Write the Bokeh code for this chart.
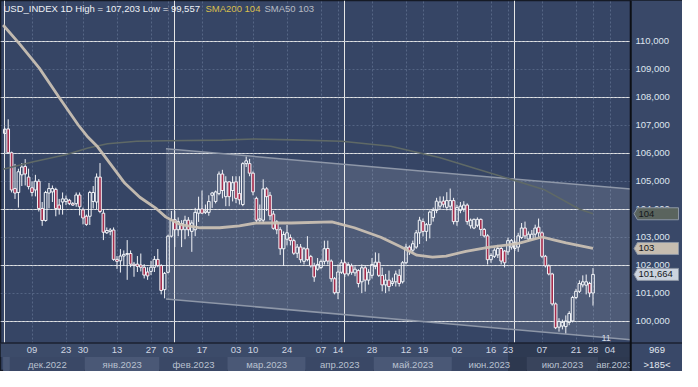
import numpy as np
import pandas as pd
from bokeh.plotting import figure
from bokeh.models import FixedTicker, Grid, Label, Range1d
from bokeh.core.properties import value
from bokeh.embed import file_html
from bokeh.resources import INLINE

# ---------------- data ----------------
FIRST_DAY = "2022-11-29"

opens = [106.70, 106.86, 106.01, 104.73, 104.59, 105.22, 105.52, 105.14, 104.76, 104.68,
         104.99, 104.02, 103.59, 104.57, 104.61, 104.70, 104.14, 104.25, 104.27, 104.31,
         104.19, 104.19, 104.50, 103.97, 103.74, 103.74, 104.27, 104.25, 105.14, 103.85,
         103.15, 103.20, 103.25, 102.20, 102.15, 102.32, 102.38, 102.41, 102.03, 102.03,
         102.00, 101.92, 101.75, 101.77, 101.92, 102.20, 101.98, 101.12, 101.74, 103.03,
         103.62, 103.26, 103.48, 103.26, 103.60, 103.20, 103.26, 103.85, 104.00, 103.88,
         103.88, 104.49, 104.27, 104.55, 105.25, 104.44, 104.97, 104.66, 104.97, 104.55,
         104.16, 105.62, 105.62, 105.28, 104.38, 103.60, 103.60, 104.72, 104.49, 103.82,
         103.54, 103.26, 102.58, 102.92, 102.98, 102.87, 102.42, 102.64, 102.13, 102.58,
         102.30, 101.97, 101.85, 101.91, 102.13, 102.59, 102.14, 101.51, 101.01, 101.74,
         102.08, 101.68, 101.97, 101.72, 101.80, 101.40, 101.90, 101.46, 101.63, 101.95,
         102.10, 101.63, 101.29, 101.46, 101.34, 101.40, 101.63, 101.40, 102.08, 102.64,
         102.53, 102.64, 103.15, 103.55, 103.20, 103.44, 103.70, 103.95, 104.10, 104.28,
         104.06, 104.10, 104.30, 103.55, 103.95, 104.00, 104.14, 103.40, 103.32, 103.42,
         103.63, 103.27, 103.04, 102.19, 102.31, 102.36, 102.59, 102.50, 102.47, 102.64,
         102.59, 102.64, 102.98, 103.32, 102.93, 102.93, 103.10, 103.35, 103.15, 102.31,
         101.97, 101.68, 100.61, 99.78, 99.82, 99.80, 99.95, 100.00, 100.84, 101.06,
         101.29, 101.28, 101.34, 101.00]
highs = [106.90, 107.203, 106.05, 105.61, 105.44, 105.64, 105.78, 105.44, 104.99, 105.22,
         105.07, 104.25, 104.65, 104.93, 104.84, 104.76, 104.36, 104.59, 104.48, 104.36,
         104.25, 104.59, 104.59, 104.05, 103.80, 104.65, 104.82, 105.27, 105.64, 103.97,
         103.34, 103.32, 103.34, 102.32, 102.57, 102.52, 102.89, 102.52, 102.11, 102.32,
         102.41, 102.03, 101.92, 102.15, 102.32, 102.57, 102.03, 101.75, 103.08, 103.93,
         103.93, 103.70, 103.60, 103.76, 103.71, 103.60, 104.04, 104.44, 104.66, 104.16,
         104.49, 104.61, 104.66, 105.34, 105.40, 105.17, 105.00, 105.17, 105.17, 105.17,
         105.67, 105.87, 105.79, 105.34, 104.44, 104.16, 105.06, 104.78, 104.61, 103.93,
         103.60, 103.35, 103.20, 103.43, 103.09, 102.94, 102.75, 102.75, 102.64, 103.03,
         102.36, 102.08, 102.25, 102.20, 102.87, 102.87, 102.20, 101.57, 102.02, 102.19,
         102.14, 102.10, 102.05, 101.95, 101.85, 102.02, 102.00, 101.85, 102.25, 102.45,
         102.42, 101.91, 101.68, 101.80, 101.55, 101.80, 101.85, 102.14, 102.76, 102.70,
         102.87, 103.25, 103.72, 103.66, 103.50, 103.95, 104.05, 104.40, 104.45, 104.45,
         104.60, 104.73, 104.40, 104.15, 104.25, 104.28, 104.20, 103.66, 103.66, 103.70,
         103.66, 103.32, 103.10, 102.42, 102.60, 102.72, 102.64, 102.53, 102.98, 102.93,
         102.87, 103.15, 103.50, 103.55, 103.20, 103.25, 103.44, 103.66, 103.20, 102.36,
         102.02, 101.72, 100.66, 100.10, 100.05, 100.20, 100.35, 100.90, 101.15, 101.45,
         101.63, 101.66, 101.40, 101.89]
lows = [106.00, 105.98, 104.59, 104.36, 104.05, 104.82, 104.84, 104.70, 104.45, 104.45,
        103.91, 103.40, 103.55, 104.02, 104.25, 103.74, 103.80, 103.80, 104.14, 104.14,
        104.11, 104.08, 103.77, 103.45, 103.40, 103.43, 104.02, 104.00, 103.85, 102.89,
        103.11, 103.06, 102.15, 101.86, 101.73, 101.98, 101.47, 101.92, 101.58, 101.75,
        101.77, 101.52, 101.47, 101.64, 101.75, 101.92, 100.95, 100.81, 101.70, 102.98,
        102.64, 103.03, 102.64, 102.92, 103.03, 102.47, 103.03, 103.54, 103.82, 103.82,
        103.76, 104.04, 104.20, 104.49, 104.38, 104.10, 104.10, 104.27, 104.21, 104.16,
        104.10, 105.50, 105.17, 104.49, 103.51, 103.54, 103.48, 103.93, 103.60, 103.26,
        103.10, 102.36, 101.97, 102.70, 102.70, 102.36, 102.25, 102.08, 102.02, 102.13,
        101.91, 101.40, 101.80, 101.85, 102.02, 102.02, 101.40, 100.95, 100.78, 101.68,
        101.57, 101.60, 101.65, 101.60, 101.20, 101.00, 101.05, 101.30, 101.52, 101.85,
        101.57, 101.06, 101.00, 101.06, 101.25, 101.23, 101.23, 101.34, 102.02, 102.36,
        102.40, 102.58, 102.75, 103.02, 102.85, 102.95, 103.55, 103.85, 104.00, 104.05,
        103.95, 103.95, 103.45, 103.40, 103.85, 103.90, 103.44, 103.30, 103.28, 103.35,
        103.04, 102.98, 102.02, 102.08, 102.25, 102.25, 102.02, 101.91, 102.36, 102.55,
        102.50, 102.47, 102.93, 102.93, 102.85, 102.90, 102.93, 102.93, 102.25, 101.91,
        101.63, 100.55, 99.71, 99.62, 99.70, 99.557, 99.85, 99.95, 100.78, 101.00,
        101.20, 100.95, 100.85, 100.55]
closes = [106.85, 106.01, 104.68, 104.57, 105.33, 105.50, 105.25, 104.80, 104.59, 104.99,
          104.02, 103.59, 104.59, 104.73, 104.73, 104.02, 104.00, 104.36, 104.36, 104.19,
          104.14, 104.50, 104.08, 103.68, 103.45, 104.59, 104.59, 105.14, 103.91, 103.17,
          103.23, 103.25, 102.20, 102.13, 102.32, 102.38, 102.41, 102.03, 101.98, 101.95,
          101.92, 101.64, 101.61, 101.92, 102.20, 101.98, 101.09, 101.70, 103.03, 103.60,
          103.26, 103.55, 103.26, 103.60, 103.26, 103.50, 103.88, 103.99, 103.85, 103.93,
          104.27, 104.57, 104.61, 105.25, 104.66, 104.97, 104.44, 104.94, 104.38, 104.33,
          105.62, 105.72, 105.28, 104.61, 103.60, 103.65, 104.72, 104.44, 103.76, 103.31,
          103.26, 102.58, 103.09, 103.15, 102.87, 102.42, 102.64, 102.19, 102.58, 102.19,
          101.97, 101.57, 102.02, 102.13, 102.58, 102.14, 101.51, 101.01, 101.75, 102.08,
          101.68, 102.02, 101.74, 101.85, 101.34, 101.90, 101.46, 101.74, 102.02, 102.10,
          101.63, 101.29, 101.46, 101.23, 101.40, 101.68, 101.34, 102.08, 102.64, 102.49,
          102.76, 103.15, 103.60, 103.20, 103.44, 103.89, 103.95, 104.28, 104.25, 104.17,
          104.30, 104.30, 103.55, 104.05, 104.10, 104.14, 103.55, 103.60, 103.63, 103.63,
          103.27, 103.04, 102.19, 102.34, 102.53, 102.59, 102.14, 102.08, 102.87, 102.87,
          102.81, 103.04, 103.32, 103.04, 103.10, 103.10, 103.32, 103.15, 102.31, 101.97,
          101.68, 100.61, 99.76, 99.98, 99.95, 100.00, 100.27, 100.84, 101.06, 101.34,
          101.40, 101.40, 101.00, 101.664]

# moving averages (candle position, value)
sma50_pos = [-0.5, 4.4, 10.1, 15.8, 21.6, 24.5, 27.3, 31.1, 35.1, 39.7, 44.6, 47.4, 51.7,
             57.5, 63.2, 69.0, 73.9, 84.2, 96.2, 102.8, 110.6, 116.3, 121.2, 125.8, 129.8,
             135.6, 142.2, 150.8, 158.0, 161.4, 165.1, 173.0]
sma50_val = [110.57, 109.89, 109.04, 108.02, 107.00, 106.56, 106.22, 105.60, 104.95, 104.42,
             104.01, 103.71, 103.44, 103.33, 103.33, 103.40, 103.50, 103.50, 103.54, 103.33,
             102.99, 102.66, 102.35, 102.28, 102.32, 102.49, 102.63, 102.76, 103.00, 102.90,
             102.79, 102.59]
sma200_pos = [-0.5, 8.1, 17.9, 24.5, 30.2, 38.8, 47.4, 63.8, 73.3, 84.8, 99.1, 113.5, 127.8,
              143.0, 158.5, 168.9, 173.0]
sma200_val = [105.42, 105.68, 105.94, 106.18, 106.33, 106.42, 106.44, 106.46, 106.50, 106.47,
              106.42, 106.24, 105.84, 105.28, 104.70, 104.00, 103.83]

# drawn price channel (two parallel lines)
channel_pos = [47.4, 184.1]
channel_top = [106.15, 104.71]
channel_bottom = [100.79, 99.33]

tick_dates = ["2022-12-09", "2022-12-23", "2022-12-30", "2023-01-13", "2023-01-27",
              "2023-02-03", "2023-02-17", "2023-03-03", "2023-03-10", "2023-03-24",
              "2023-04-07", "2023-04-14", "2023-04-28", "2023-05-12", "2023-05-19",
              "2023-06-02", "2023-06-16", "2023-06-23", "2023-07-07", "2023-07-21",
              "2023-07-28", "2023-08-04"]
tick_labels = ["09", "23", "30", "13", "27", "03", "17", "03", "10", "24", "07", "14",
               "28", "12", "19", "02", "16", "23", "07", "21", "28", "04"]
month_starts = ["2022-11-01", "2022-12-01", "2023-01-01", "2023-02-01", "2023-03-01",
                "2023-04-01", "2023-05-01", "2023-06-01", "2023-07-01", "2023-08-01",
                "2023-09-01"]
month_labels = ["", "дек.2022", "янв.2023", "фев.2023", "мар.2023", "апр.2023",
                "май.2023", "июн.2023", "июл.2023", "авг.2023"]
price_ticks = [100, 101, 102, 103, 104, 105, 106, 107, 108, 109, 110]
highlight_from = "2023-06-23"

symbol = "USD_INDEX"
timeframe = "1D"
corner_top = "969"
corner_bottom = ">185<"
right_count = "11"

# ---------------- layout / style ----------------
W, H = 682, 371
PX_PER_DAY, PX_PER_UNIT = 3.4, 28.0           # keeps grid lines on the pixel grid
X_LO = 3 - 14.5 / PX_PER_DAY
X_MAX = X_LO + W / PX_PER_DAY
Y_HI = 110 + 40.5 / PX_PER_UNIT
Y_LO = Y_HI - H / PX_PER_UNIT
AXIS_X = 184.1
STRIP_TOP = Y_HI - 342.5 / PX_PER_UNIT
STRIP_MID = Y_HI - 356.5 / PX_PER_UNIT
LABEL_X = X_LO + 635 / PX_PER_DAY
TAG_TIP = X_LO + 633.5 / PX_PER_DAY
TAG_BODY = X_LO + 637 / PX_PER_DAY
TAG_RIGHT = X_LO + 678 / PX_PER_DAY
TAG_HALF = 6 / PX_PER_UNIT
CORNER_X = X_LO + 656.5 / PX_PER_DAY

BG = "#364565"
PANEL = "#394868"
GRID = "#7f8fae"
WHITE = "#f2f4f8"
BEAR = "#a52c4c"
FONT_NAME = "Liberation Sans"
FONT = value(FONT_NAME)


def fmt(v):
    return f"{v:.3f}".replace(".", ",")


days = pd.bdate_range(FIRST_DAY, periods=220)


def day_index(d):
    return int(days.searchsorted(pd.Timestamp(d)))


o = np.array(opens)
h = np.array(highs)
l = np.array(lows)
c = np.array(closes)
x = np.arange(len(o))
up = c >= o
btop = np.maximum(o, c)
bbot = np.minimum(o, c)

p = figure(width=W, height=H, output_backend="svg", toolbar_location=None,
           x_range=Range1d(X_LO, X_MAX), y_range=Range1d(Y_LO, Y_HI),
           x_axis_location=None, y_axis_location=None, title=None)
p.min_border = 0
p.background_fill_color = BG
p.border_fill_color = BG
p.outline_line_color = "#151a25"
p.outline_line_width = 1.5

tick_idx = [float(day_index(d)) for d in tick_dates]
p.add_layout(Grid(dimension=1, ticker=FixedTicker(ticks=price_ticks), grid_line_color=GRID,
                  grid_line_dash="2 2", grid_line_alpha=0.42))
p.add_layout(Grid(dimension=0, ticker=FixedTicker(ticks=tick_idx), grid_line_color=GRID,
                  grid_line_dash="2 2", grid_line_alpha=0.45))

# channel
p.varea(x=channel_pos, y1=channel_bottom, y2=channel_top, fill_color="white", fill_alpha=0.12)
p.line(channel_pos, channel_top, line_color="#8e97a8", line_width=1.5)
p.line(channel_pos, channel_bottom, line_color="#8e97a8", line_width=1.5)

# candles
p.segment(x0=x, y0=btop, x1=x, y1=h, line_color=WHITE, line_width=1)
p.segment(x0=x, y0=l, x1=x, y1=bbot, line_color=WHITE, line_width=1)
p.vbar(x=x[up], width=0.78, top=btop[up], bottom=bbot[up], fill_alpha=0,
       line_color=WHITE, line_width=1)
p.vbar(x=x[~up], width=0.78, top=btop[~up], bottom=bbot[~up], fill_color=BEAR,
       line_color=WHITE, line_width=1)

# moving averages
p.line(sma200_pos, sma200_val, line_color="#5f6966", line_width=1.6)
p.line(sma50_pos, sma50_val, line_color="#c9c0b3", line_width=2.8, line_alpha=0.95)

# bottom time strip
p.quad(left=X_LO, right=AXIS_X, bottom=STRIP_MID, top=STRIP_TOP, fill_color="#3c4b69",
       line_color=None)
m_idx = [day_index(d) - 0.5 for d in month_starts]
m_left = [max(a, X_LO) for a in m_idx[:-1]]
m_right = [min(b, AXIS_X) for b in m_idx[1:]]
m_cols = ["#4a5876" if i % 2 == 0 else "#3a4866" for i in range(len(m_left))]
p.quad(left=m_left, right=m_right, bottom=Y_LO, top=STRIP_MID, fill_color=m_cols,
       line_color=None)
p.quad(left=day_index(highlight_from), right=AXIS_X, bottom=Y_LO, top=STRIP_TOP,
       fill_color="black", fill_alpha=0.22, line_color=None)
p.text(x=tick_idx, y=(STRIP_TOP + STRIP_MID) / 2, text=tick_labels, text_font=FONT,
       text_font_size="9.5px", text_color="#cfd6e2", text_align="center",
       text_baseline="middle")
m_center = [(a + b) / 2 for a, b in zip(m_left, m_right)]
p.text(x=m_center, y=(STRIP_MID + Y_LO) / 2, text=month_labels, text_font=FONT,
       text_font_size="9.5px", text_color="#b9c1d0", text_align="center",
       text_baseline="middle")

# right price panel
p.quad(left=AXIS_X, right=X_MAX, bottom=Y_LO, top=Y_HI, fill_color=PANEL, line_color=None)
p.segment(x0=[X_LO], y0=[STRIP_TOP], x1=[X_MAX], y1=[STRIP_TOP], line_color="#1b2130",
          line_width=1.5)
p.segment(x0=[AXIS_X], y0=[Y_LO], x1=[AXIS_X], y1=[Y_HI], line_color="#0c0f15",
          line_width=2)
p.text(x=[LABEL_X] * len(price_ticks), y=price_ticks, text=[fmt(t) for t in price_ticks],
       text_font=FONT, text_font_size="9.5px", text_color="#dfe5ee", text_align="left",
       text_baseline="middle")

# price tags (last values of SMA200, SMA50 and the close)
tag_vals = [sma200_val[-1], sma50_val[-1], closes[-1]]
tag_text = [f"{round(sma200_val[-1])}", f"{round(sma50_val[-1])}", fmt(closes[-1])]
tag_fill = ["#5a645e", "#c6bdb0", "#cbd3df"]
tag_xs = [[TAG_TIP, TAG_BODY, TAG_RIGHT, TAG_RIGHT, TAG_BODY] for _ in tag_vals]
tag_ys = [[v, v + TAG_HALF, v + TAG_HALF, v - TAG_HALF, v - TAG_HALF] for v in tag_vals]
p.patches(xs=tag_xs, ys=tag_ys, fill_color=tag_fill, line_color="#8d96a4", line_width=1)
p.text(x=[TAG_BODY + 0.3] * 3, y=tag_vals, text=tag_text, text_font=FONT,
       text_font_size="9.5px", text_color="#15181c", text_align="left",
       text_baseline="middle")

# corner counters
p.text(x=[CORNER_X, CORNER_X], y=[(STRIP_TOP + STRIP_MID) / 2, (STRIP_MID + Y_LO) / 2],
       text=[corner_top, corner_bottom], text_font=FONT, text_font_size="9.5px",
       text_color="#e3e8f0", text_align="center", text_baseline="middle")

# header texts
title = f"{symbol} {timeframe} High = {fmt(max(highs))} Low = {fmt(min(lows))}"
p.add_layout(Label(x=3, y=H - 8, x_units="screen", y_units="screen", text=title,
                   text_font=FONT_NAME, text_font_size="9.5px", text_color="#eef1f6",
                   text_baseline="middle"))
p.add_layout(Label(x=205, y=H - 8, x_units="screen", y_units="screen",
                   text=f"SMA200 {round(sma200_val[-1])}", text_font=FONT_NAME,
                   text_font_size="9.5px", text_color="#d9bf4e", text_baseline="middle"))
p.add_layout(Label(x=264, y=H - 8, x_units="screen", y_units="screen",
                   text=f"SMA50 {round(sma50_val[-1])}", text_font=FONT_NAME,
                   text_font_size="9.5px", text_color="#b7bcc4", text_baseline="middle"))
p.add_layout(Label(x=601, y=34, x_units="screen", y_units="screen", text=right_count,
                   text_font=FONT_NAME, text_font_size="9px", text_color="#d5dbe5",
                   text_baseline="middle"))

open("out.html", "w").write(file_html(p, INLINE))
